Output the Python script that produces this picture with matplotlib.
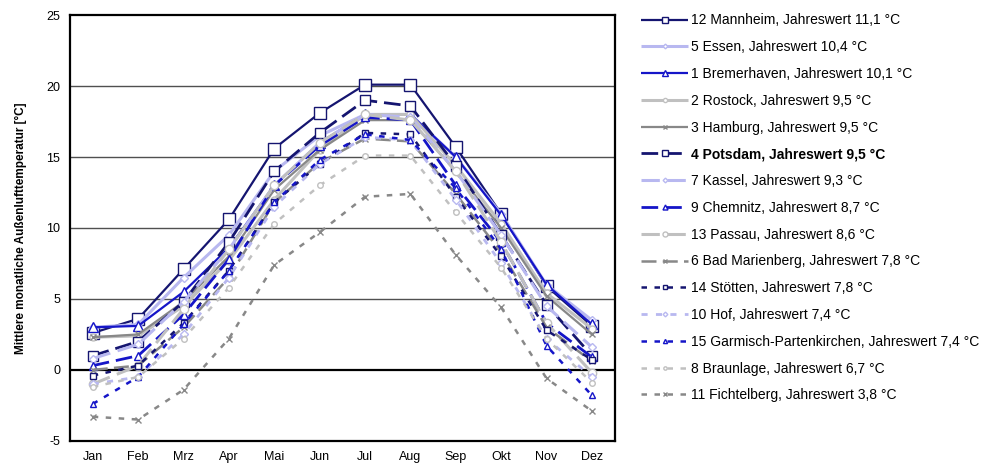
import numpy as np
import matplotlib
matplotlib.use("Agg")
import matplotlib.pyplot as plt

plt.rcParams['font.family'] = ['Liberation Sans', 'DejaVu Sans']
plt.rcParams['axes.unicode_minus'] = False

# monthly values
months = ["Jan", "Feb", "Mrz", "Apr", "Mai", "Jun", "Jul", "Aug", "Sep", "Okt", "Nov", "Dez"]

mannheim = [2.6, 3.6, 7.1, 10.6, 15.6, 18.1, 20.1, 20.1, 15.7, 11.0, 5.9, 3.1]
essen = [3.0, 3.2, 6.5, 9.5, 14.0, 16.5, 18.0, 18.0, 15.0, 11.0, 6.0, 3.5]
bremerhaven = [3.0, 3.1, 5.5, 8.6, 13.0, 16.0, 18.0, 18.0, 15.0, 10.9, 6.0, 3.2]
rostock = [2.3, 2.4, 4.5, 7.7, 12.0, 15.5, 18.0, 18.0, 14.4, 10.3, 5.4, 2.9]
hamburg = [2.3, 2.5, 4.8, 8.0, 12.7, 15.5, 17.6, 17.6, 14.0, 10.0, 5.2, 2.5]
potsdam = [1.0, 2.0, 4.8, 9.0, 14.0, 16.7, 19.0, 18.6, 14.4, 9.5, 4.6, 1.0]
kassel = [0.8, 1.8, 4.8, 8.5, 13.0, 16.0, 18.0, 17.8, 14.0, 9.5, 4.5, 1.6]
chemnitz = [0.3, 1.0, 3.9, 7.8, 13.0, 15.8, 17.8, 17.6, 13.0, 9.0, 3.3, 0.9]
passau = [-1.0, 0.3, 4.3, 8.5, 13.0, 16.0, 18.0, 17.6, 14.0, 9.0, 3.3, -0.2]
bad_marienberg = [0.0, 0.3, 3.0, 6.5, 11.8, 14.6, 16.3, 16.1, 12.4, 8.3, 3.0, 0.6]
stoetten = [-0.4, 0.3, 3.3, 7.0, 11.8, 14.5, 16.7, 16.6, 12.2, 8.0, 2.8, 0.7]
hof = [-1.0, -0.5, 2.5, 6.5, 11.5, 14.5, 16.4, 16.2, 12.0, 7.5, 2.2, -0.5]
garmisch = [-2.4, -0.5, 3.2, 7.0, 11.8, 14.8, 16.6, 16.2, 12.8, 8.5, 1.7, -1.8]
braunlage = [-1.2, -0.5, 2.2, 5.8, 10.3, 13.0, 15.1, 15.1, 11.1, 7.2, 2.2, -0.9]
fichtelberg = [-3.3, -3.5, -1.4, 2.2, 7.4, 9.7, 12.2, 12.4, 8.1, 4.4, -0.6, -2.9]

labels = [
    "12 Mannheim, Jahreswert 11,1 °C",
    "5 Essen, Jahreswert 10,4 °C",
    "1 Bremerhaven, Jahreswert 10,1 °C",
    "2 Rostock, Jahreswert 9,5 °C",
    "3 Hamburg, Jahreswert 9,5 °C",
    "4 Potsdam, Jahreswert 9,5 °C",
    "7 Kassel, Jahreswert 9,3 °C",
    "9 Chemnitz, Jahreswert 8,7 °C",
    "13 Passau, Jahreswert 8,6 °C",
    "6 Bad Marienberg, Jahreswert 7,8 °C",
    "14 Stötten, Jahreswert 7,8 °C",
    "10 Hof, Jahreswert 7,4 °C",
    "15 Garmisch-Partenkirchen, Jahreswert 7,4 °C",
    "8 Braunlage, Jahreswert 6,7 °C",
    "11 Fichtelberg, Jahreswert 3,8 °C",
]
series = [mannheim, essen, bremerhaven, rostock, hamburg, potsdam, kassel, chemnitz,
          passau, bad_marienberg, stoetten, hof, garmisch, braunlage, fichtelberg]

navy = "#151570"
blue = "#1515c8"
lav = "#b8b8f0"
lgray = "#c0c0c0"
gray = "#888888"

colors = [navy, lav, blue, lgray, gray, navy, lav, blue, lgray, gray, navy, lav, blue, lgray, gray]
markers = ["s", "D", "^", "o", "x", "s", "D", "^", "o", "x", "s", "D", "^", "o", "x"]
msizes = [8, 4, 7, 5, 5, 7, 4, 6, 6, 5, 5, 4, 5, 4, 5]
solid = (0, ())
longdash = (0, (6, 2.5))
shortdash = (0, (2.2, 3))
styles = [solid] * 5 + [longdash] * 5 + [shortdash] * 5
widths = [1.6, 2.2, 1.6, 2.2, 1.6, 2.0, 2.2, 2.0, 2.2, 1.8, 1.8, 2.0, 1.8, 1.8, 1.8]

fig = plt.figure(figsize=(10.01, 4.73), dpi=100)
ax = fig.add_axes([0.07, 0.068, 0.544, 0.9])

x = np.arange(len(months))
for vals, lab, c, m, ms, ls, lw in zip(series, labels, colors, markers, msizes, styles, widths):
    ax.plot(x, vals, color=c, linestyle=ls, linewidth=lw, marker=m, markersize=ms,
            markerfacecolor="white", markeredgecolor=c, markeredgewidth=1.0, label=lab)

ax.set_xlim(-0.5, 11.5)
ax.set_ylim(-5, 25)
ax.set_yticks(range(-5, 30, 5))
ax.set_xticks(x)
ax.set_xticklabels(months)
ax.tick_params(length=0, labelsize=9, pad=7)
for yy in [5, 10, 15, 20]:
    ax.axhline(yy, color="#505050", linewidth=1.0, zorder=0)
ax.axhline(0, color="black", linewidth=1.6, zorder=0)
for s in ax.spines.values():
    s.set_linewidth(1.6)
ax.set_ylabel("Mittlere monatliche Außenlufttemperatur [°C]", fontsize=8.5,
              fontweight="bold", labelpad=14)

leg = fig.legend(loc="upper left", bbox_to_anchor=(0.628, 0.998), frameon=False,
                 fontsize=10, labelspacing=0.92, handlelength=3.4, markerscale=0.6,
                 handletextpad=0.2)
leg.get_texts()[5].set_fontweight("bold")

fig.savefig("out.png", dpi=100)
